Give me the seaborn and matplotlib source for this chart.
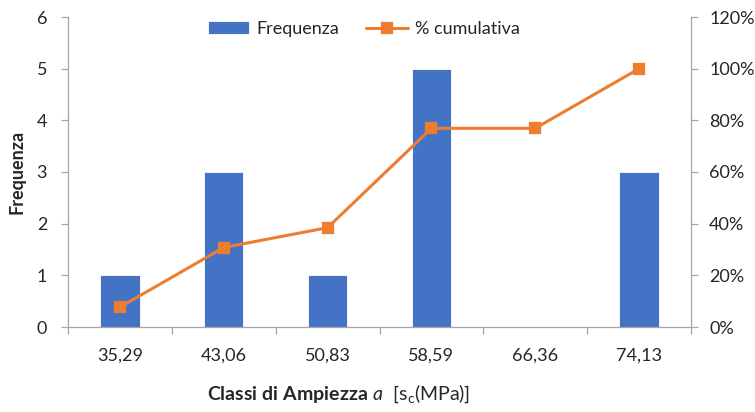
import matplotlib
matplotlib.use("Agg")
import matplotlib.pyplot as plt
import seaborn as sns
import pandas as pd
import numpy as np
from matplotlib.ticker import PercentFormatter, FixedLocator, NullFormatter

categories = ["35,29", "43,06", "50,83", "58,59", "66,36", "74,13"]
frequenza = [1, 3, 1, 5, 0, 3]
cumulativa = [7.69, 30.77, 38.46, 76.92, 76.92, 100.0]
left_ticks = [0, 1, 2, 3, 4, 5, 6]
right_ticks = [0, 20, 40, 60, 80, 100, 120]

sns.set_theme(style="white")
plt.rcParams["font.family"] = ["Lato", "DejaVu Sans"]
plt.rcParams["mathtext.fontset"] = "custom"
plt.rcParams["mathtext.rm"] = "Lato"
plt.rcParams["mathtext.it"] = "Lato:italic"
plt.rcParams["mathtext.bf"] = "Lato:bold"

BLUE = "#4472C4"
ORANGE = "#ED7D31"
GREY = "#A6A6A6"
TXT = "#262626"

df = pd.DataFrame({"cat": categories, "freq": frequenza, "cum": cumulativa})

fig = plt.figure(figsize=(7.55, 4.12), dpi=100)
ax = fig.add_axes([68 / 755, 1 - 327 / 412, (691 - 68) / 755, (327 - 17) / 412])

sns.barplot(data=df, x="cat", y="freq", color=BLUE, width=0.38, saturation=1,
            edgecolor="white", linewidth=0.6, ax=ax, label="Frequenza")

ax2 = ax.twinx()
sns.pointplot(data=df, x="cat", y="cum", color=ORANGE, markers="s",
              linewidth=2.2, markersize=7, ax=ax2, label="% cumulativa")

ax.set_xlim(-0.5, len(categories) - 0.5)
ax.set_ylim(0, 6)
ax2.set_ylim(0, 120)
ax.set_yticks(left_ticks)
ax2.set_yticks(right_ticks)
ax2.yaxis.set_major_formatter(PercentFormatter(decimals=0))

for a in (ax, ax2):
    a.spines["top"].set_visible(False)
    for s in ("left", "right", "bottom"):
        a.spines[s].set_color(GREY)
        a.spines[s].set_linewidth(0.9)
ax.spines["right"].set_visible(False)
ax2.spines["left"].set_visible(False)
ax2.spines["bottom"].set_visible(False)

ax.tick_params(axis="y", which="both", length=5, width=0.9, color=GREY,
               labelsize=13, labelcolor=TXT, pad=10, left=True, direction="out")
ax2.tick_params(axis="y", which="both", length=5, width=0.9, color=GREY,
                labelsize=13, labelcolor=TXT, pad=8, right=True, direction="out")

# x axis: category labels centered, tick marks at category boundaries
ax.tick_params(axis="x", which="major", length=0, labelsize=13, labelcolor=TXT, pad=15)
ax.xaxis.set_minor_locator(FixedLocator(np.arange(-0.5, len(categories), 1.0)))
ax.xaxis.set_minor_formatter(NullFormatter())
ax.tick_params(axis="x", which="minor", length=5, width=0.9, color=GREY, bottom=True)

ax.set_xlabel(r"$\mathbf{Classi\ di\ Ampiezza}\ \mathit{a}\ \ [\mathrm{s_c(MPa)}]$",
              fontsize=14, color=TXT)
ax.xaxis.set_label_coords(0.435, -0.215)
ax.xaxis.label.set_verticalalignment("center")
ax.set_ylabel("Frequenza", fontsize=13, fontweight="bold", color=TXT, labelpad=8)
ax2.set_ylabel("")

h1, l1 = ax.get_legend_handles_labels()
h2, l2 = ax2.get_legend_handles_labels()
if ax2.get_legend():
    ax2.get_legend().remove()
leg = ax.legend(h1 + h2, l1 + l2, loc="upper center", bbox_to_anchor=(0.475, 1.04),
                ncol=2, frameon=False, fontsize=13, handlelength=2.3,
                columnspacing=1.5, handletextpad=0.4)
for t in leg.get_texts():
    t.set_color(TXT)

fig.savefig("out.png", dpi=100)
